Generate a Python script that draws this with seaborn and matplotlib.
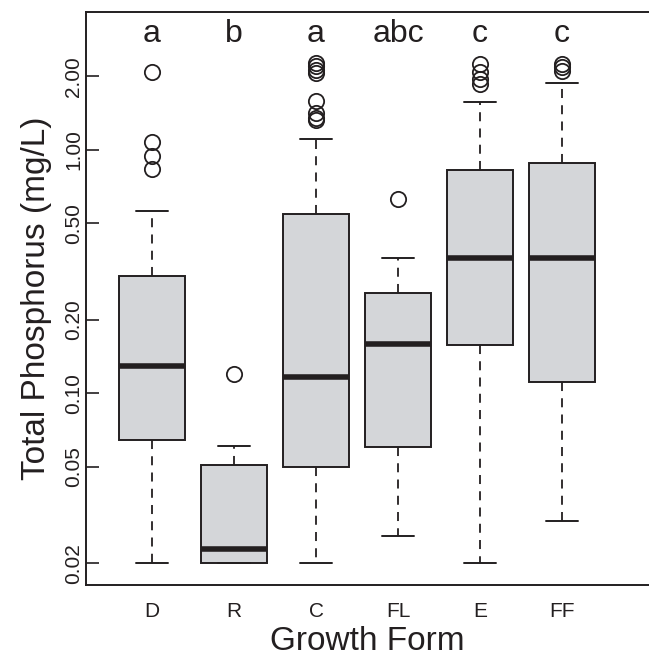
import numpy as np
import pandas as pd
import matplotlib
matplotlib.use("Agg")
import matplotlib.pyplot as plt
import matplotlib.ticker as mticker
import seaborn as sns

# growth forms and the box summaries (mg/L)
groups = ["D", "R", "C", "FL", "E", "FF"]
lower_whisker = [0.020, 0.020, 0.020, 0.026, 0.020, 0.030]
q1 = [0.064, 0.020, 0.050, 0.060, 0.158, 0.111]
median = [0.129, 0.023, 0.117, 0.160, 0.360, 0.360]
q3 = [0.302, 0.051, 0.545, 0.259, 0.826, 0.884]
upper_whisker = [0.560, 0.061, 1.11, 0.359, 1.576, 1.888]
outliers = [
    [2.09, 1.08, 0.94, 0.83],
    [0.120],
    [2.28, 2.20, 2.13, 2.06, 1.58, 1.41, 1.35, 1.32],
    [0.63],
    [2.25, 2.08, 1.96, 1.87],
    [2.26, 2.18, 2.10],
]
letters = ["a", "b", "a", "abc", "c", "c"]
y_ticks = [0.02, 0.05, 0.10, 0.20, 0.50, 1.00, 2.00]


# build a sample per group whose quartiles / whiskers / fliers match the summaries
def expand(lw, a, med, b, uw, outs, m=12):
    top = [b] * (m - 1 - len(outs)) + [uw] + sorted(outs)
    return [lw] + [a] * m + [med] * m + [b] * m + top


rows = []
for i, g in enumerate(groups):
    vals = expand(lower_whisker[i], q1[i], median[i], q3[i], upper_whisker[i], outliers[i])
    rows += [(g, v) for v in vals]
df = pd.DataFrame(rows, columns=["Growth Form", "TP"])

sns.set_style("ticks")
plt.rcParams["font.family"] = ["Liberation Sans", "DejaVu Sans"]

ink = "#231f20"
fig = plt.figure(figsize=(6.49, 6.60), dpi=100)
ax = fig.add_axes([86 / 649, 1 - 585 / 660, 1 - 86 / 649, (585 - 12) / 660])

sns.boxplot(data=df, x="Growth Form", y="TP", order=groups, ax=ax,
            color="#d4d6d9", saturation=1, linecolor=ink, linewidth=1.4,
            width=0.8, whis=1.5,
            whiskerprops=dict(linestyle=(0, (5, 4)), linewidth=1.3, color=ink),
            capprops=dict(linewidth=1.4, color=ink),
            medianprops=dict(linewidth=4, color=ink, solid_capstyle="butt"),
            flierprops=dict(marker="o", markersize=11, markerfacecolor="none",
                            markeredgecolor=ink, markeredgewidth=1.3))

ax.set_yscale("log")
ax.set_ylim(0.01632, 3.68)
ax.set_xlim(-0.805, 6.061)
ax.yaxis.set_major_locator(mticker.FixedLocator(y_ticks))
ax.yaxis.set_minor_locator(mticker.NullLocator())
ax.set_yticklabels([f"{t:.2f}" for t in y_ticks], rotation=90, va="center")

ax.tick_params(axis="y", direction="in", length=9, width=1.2, color=ink,
               labelsize=15, pad=2, labelcolor=ink)
ax.tick_params(axis="x", length=0, labelsize=15, pad=12, labelcolor=ink)

for s in ["left", "top", "bottom"]:
    ax.spines[s].set_linewidth(1.4)
    ax.spines[s].set_color(ink)
ax.spines["right"].set_visible(False)

ax.set_xlabel("Growth Form", fontsize=24, color=ink, labelpad=4)
ax.set_ylabel("Total Phosphorus (mg/L)", fontsize=24, color=ink, labelpad=9)

# significance letters above each box
trans = matplotlib.transforms.blended_transform_factory(ax.transData, ax.transAxes)
for i, lab in enumerate(letters):
    ax.text(i, 0.9485, lab, transform=trans, ha="center", va="baseline",
            fontsize=23, color=ink)

fig.savefig("out.png", dpi=100)
